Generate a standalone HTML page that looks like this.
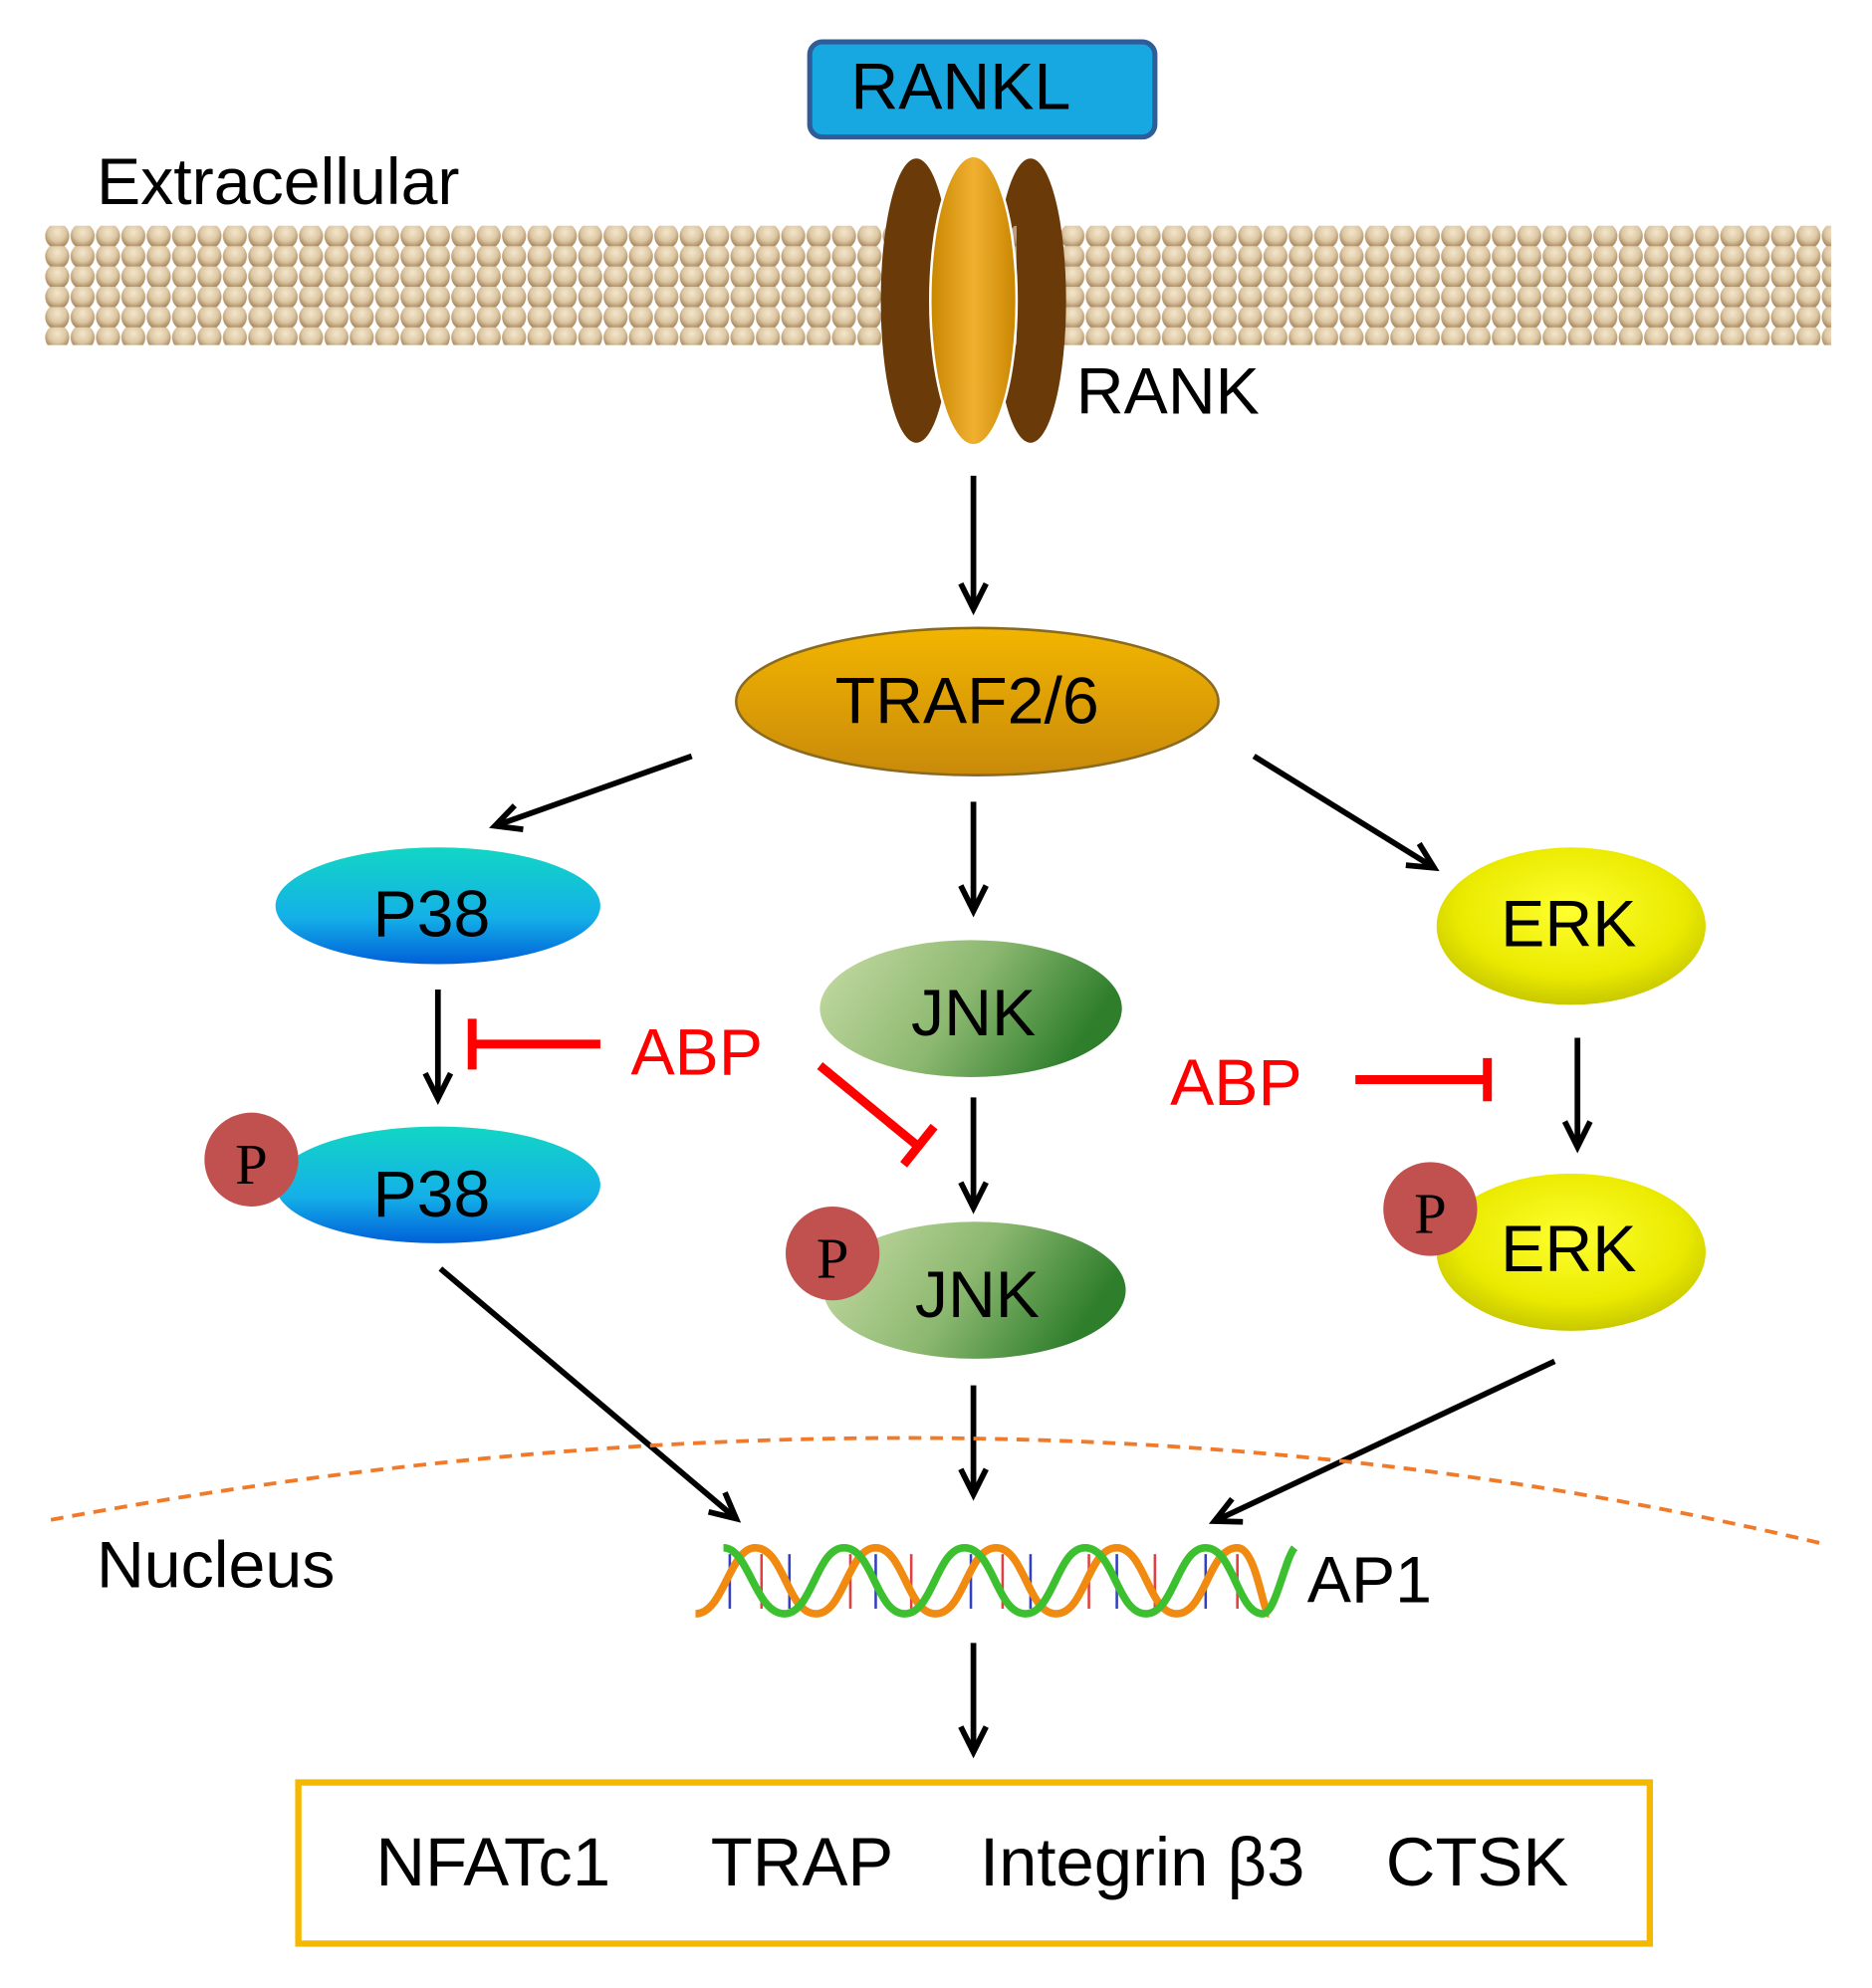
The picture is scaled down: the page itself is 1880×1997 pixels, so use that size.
<!DOCTYPE html>
<html><head><meta charset="utf-8"><style>html,body{margin:0;padding:0;background:#fff}svg{display:block}</style></head>
<body>
<svg width="1880" height="1997" viewBox="0 0 1475 1567" xmlns="http://www.w3.org/2000/svg" font-family="Liberation Sans, Arial, sans-serif">
<defs>
<radialGradient id="bead" cx="50%" cy="35%" r="60%">
<stop offset="0" stop-color="#f4e6cc"/><stop offset="0.6" stop-color="#dcc7a3"/><stop offset="1" stop-color="#a8875e"/></radialGradient>
<pattern id="mem" x="35" y="178" width="20" height="16" patternUnits="userSpaceOnUse">
<ellipse cx="10" cy="8" rx="9.5" ry="10" fill="url(#bead)"/>
</pattern>
<linearGradient id="traf" x1="0" y1="0" x2="0" y2="1"><stop offset="0" stop-color="#f2b500"/><stop offset="1" stop-color="#c98a0a"/></linearGradient>
<linearGradient id="p38" x1="0" y1="0" x2="0" y2="1"><stop offset="0" stop-color="#12d6c4"/><stop offset="0.6" stop-color="#14b0e8"/><stop offset="1" stop-color="#0060d8"/></linearGradient>
<linearGradient id="jnk" x1="0" y1="0" x2="1" y2="0.3"><stop offset="0" stop-color="#c8dca6"/><stop offset="0.55" stop-color="#8cb870"/><stop offset="1" stop-color="#2e7e2c"/></linearGradient>
<radialGradient id="erk" cx="50%" cy="40%" r="60%"><stop offset="0" stop-color="#ffff30"/><stop offset="0.7" stop-color="#eaea00"/><stop offset="1" stop-color="#c8c800"/></radialGradient>
<linearGradient id="gold" x1="0" y1="0" x2="1" y2="0"><stop offset="0" stop-color="#c98600"/><stop offset="0.5" stop-color="#f0b030"/><stop offset="1" stop-color="#c98600"/></linearGradient>
<marker id="ah" markerWidth="30" markerHeight="30" refX="22" refY="12" orient="auto" markerUnits="userSpaceOnUse">
<polyline points="2,2 22,12 2,22" fill="none" stroke="#000" stroke-width="4.5"/></marker>
</defs>

<rect x="638" y="33" width="272" height="75" rx="10" fill="#17a8e2" stroke="#2f5d9a" stroke-width="4"/>
<text x="757" y="86" font-size="52" text-anchor="middle">RANKL</text>
<text x="76" y="161" font-size="52">Extracellular</text>

<rect x="35" y="178" width="1408" height="94" fill="url(#mem)"/>

<ellipse cx="722" cy="237" rx="28" ry="112" fill="#6a3a08"/>
<ellipse cx="812" cy="237" rx="28" ry="112" fill="#6a3a08"/>
<rect x="735" y="178" width="66" height="94" fill="url(#mem)" opacity="0.7"/>
<ellipse cx="767" cy="237" rx="34" ry="114" fill="url(#gold)" stroke="#fff" stroke-width="2"/>
<text x="848" y="326" font-size="52">RANK</text>

<g stroke="#000" stroke-width="4.5" fill="none" marker-end="url(#ah)">
<line x1="767" y1="375" x2="767" y2="480"/>
<line x1="545" y1="596" x2="390" y2="651"/>
<line x1="767" y1="632" x2="767" y2="718"/>
<line x1="988" y1="596" x2="1130" y2="684"/>
<line x1="345" y1="780" x2="345" y2="866"/>
<line x1="767" y1="865" x2="767" y2="952"/>
<line x1="1243" y1="818" x2="1243" y2="904"/>
<line x1="347" y1="1000" x2="580" y2="1197"/>
<line x1="767" y1="1092" x2="767" y2="1178"/>
<line x1="1225" y1="1073" x2="957" y2="1199"/>
<line x1="767" y1="1295" x2="767" y2="1381"/>
</g>

<ellipse cx="770" cy="553" rx="190" ry="58" fill="url(#traf)" stroke="#8a6a20" stroke-width="2"/>
<text x="762" y="570" font-size="52" text-anchor="middle">TRAF2/6</text>

<ellipse cx="345" cy="714" rx="128" ry="46" fill="url(#p38)"/>
<text x="340" y="738" font-size="52" text-anchor="middle">P38</text>
<ellipse cx="765" cy="795" rx="119" ry="54" fill="url(#jnk)"/>
<text x="767" y="816" font-size="52" text-anchor="middle">JNK</text>
<ellipse cx="1238" cy="730" rx="106" ry="62" fill="url(#erk)"/>
<text x="1236" y="746" font-size="52" text-anchor="middle">ERK</text>

<g stroke="#ff0000" stroke-width="7" fill="none">
<line x1="473" y1="823" x2="372" y2="823"/><line x1="372" y1="803" x2="372" y2="843"/>
<line x1="646" y1="840" x2="724" y2="904"/><line x1="736" y1="888" x2="712" y2="918"/>
<line x1="1068" y1="851" x2="1172" y2="851"/><line x1="1172" y1="834" x2="1172" y2="868"/>
</g>
<text x="497" y="847" font-size="52" fill="#ff0000">ABP</text>
<text x="922" y="871" font-size="52" fill="#ff0000">ABP</text>

<ellipse cx="345" cy="934" rx="128" ry="46" fill="url(#p38)"/>
<text x="340" y="959" font-size="52" text-anchor="middle">P38</text>
<circle cx="198" cy="914" r="37" fill="#c0514f"/>
<text x="198" y="933" font-size="46" text-anchor="middle" font-family="Liberation Serif, serif">P</text>

<ellipse cx="768" cy="1017" rx="119" ry="54" fill="url(#jnk)"/>
<text x="770" y="1038" font-size="52" text-anchor="middle">JNK</text>
<circle cx="656" cy="988" r="37" fill="#c0514f"/>
<text x="656" y="1007" font-size="46" text-anchor="middle" font-family="Liberation Serif, serif">P</text>

<ellipse cx="1238" cy="987" rx="106" ry="62" fill="url(#erk)"/>
<text x="1236" y="1002" font-size="52" text-anchor="middle">ERK</text>
<circle cx="1127" cy="953" r="37" fill="#c0514f"/>
<text x="1127" y="972" font-size="46" text-anchor="middle" font-family="Liberation Serif, serif">P</text>

<path d="M40,1198 Q780,1060 1437,1217" fill="none" stroke="#f07a2a" stroke-width="3" stroke-dasharray="10,7"/>
<text x="76" y="1251" font-size="52">Nucleus</text>

<g stroke-width="2">
<line x1="575" y1="1225" x2="575" y2="1268" stroke="#3040c0"/><line x1="600" y1="1225" x2="600" y2="1268" stroke="#e04040"/>
<line x1="622" y1="1225" x2="622" y2="1268" stroke="#3040c0"/><line x1="670" y1="1225" x2="670" y2="1268" stroke="#e04040"/>
<line x1="690" y1="1225" x2="690" y2="1268" stroke="#3040c0"/><line x1="718" y1="1225" x2="718" y2="1268" stroke="#e04040"/>
<line x1="765" y1="1225" x2="765" y2="1268" stroke="#3040c0"/><line x1="790" y1="1225" x2="790" y2="1268" stroke="#e04040"/>
<line x1="812" y1="1225" x2="812" y2="1268" stroke="#3040c0"/><line x1="858" y1="1225" x2="858" y2="1268" stroke="#e04040"/>
<line x1="880" y1="1225" x2="880" y2="1268" stroke="#3040c0"/><line x1="910" y1="1225" x2="910" y2="1268" stroke="#e04040"/>
<line x1="950" y1="1225" x2="950" y2="1268" stroke="#3040c0"/><line x1="975" y1="1225" x2="975" y2="1268" stroke="#e04040"/>
</g>
<path d="M548,1272 C570,1272 575,1220 595,1220 C618,1220 620,1272 643,1272 C665,1272 668,1220 690,1220 C712,1220 715,1272 737,1272 C760,1272 762,1220 785,1220 C807,1220 810,1272 832,1272 C855,1272 857,1220 880,1220 C902,1220 905,1272 927,1272 C950,1272 952,1220 975,1220 C990,1220 995,1272 1000,1272" fill="none" stroke="#f08a10" stroke-width="6"/>
<path d="M570,1220 C590,1220 595,1272 618,1272 C640,1272 643,1220 665,1220 C688,1220 690,1272 713,1272 C735,1272 738,1220 760,1220 C783,1220 785,1272 808,1272 C830,1272 833,1220 855,1220 C878,1220 880,1272 903,1272 C925,1272 928,1220 950,1220 C972,1220 975,1272 995,1272 C1005,1272 1012,1230 1020,1220" fill="none" stroke="#3cc030" stroke-width="6"/>
<text x="1030" y="1263" font-size="52">AP1</text>

<rect x="235" y="1405" width="1065" height="127" fill="#fff" stroke="#f5b800" stroke-width="5"/>
<text x="296" y="1486" font-size="54">NFATc1</text>
<text x="560" y="1486" font-size="54">TRAP</text>
<text x="772" y="1486" font-size="54">Integrin β3</text>
<text x="1092" y="1486" font-size="54">CTSK</text>
</svg>
</body></html>
